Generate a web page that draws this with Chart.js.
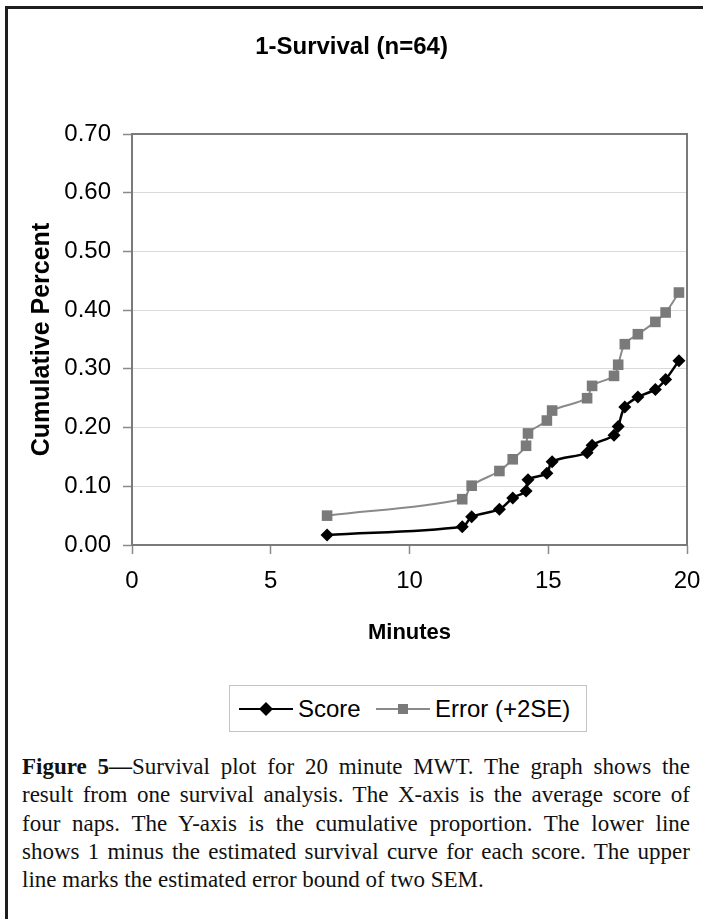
<!DOCTYPE html>
<html>
<head>
<meta charset="utf-8">
<script src="https://cdn.jsdelivr.net/npm/chart.js@4/dist/chart.umd.min.js"></script>
<style>
  html, body { margin: 0; padding: 0; background: #fff; }
  body { width: 703px; height: 919px; overflow: hidden; position: relative; }
  #frame { position: absolute; left: 5px; top: 6px; width: 720px; height: 940px;
           border-top: 3px solid #1e1e1e; border-left: 3px solid #1e1e1e; }
  #wrap { position: absolute; left: 0; top: 0; width: 703px; height: 660px; }
  #legend { position: absolute; left: 229px; top: 685px; width: 358px; height: 47px;
            border: 1px solid #c4c4c4; font-family: "Liberation Sans", Arial, sans-serif;
            font-size: 24px; color: #000; box-sizing: border-box; }
  #legend .item { position: absolute; top: 0; height: 45px; display: flex; align-items: center; }
  #legend svg { display: block; }
  #caption { position: absolute; left: 22px; top: 753px; width: 668px;
             font-family: "Liberation Serif", "Times New Roman", serif; font-size: 23px;
             line-height: 28.3px; text-align: justify; color: #111; }
</style>
</head>
<body>
<div id="frame"></div>
<div id="wrap"><canvas id="c" width="703" height="660"></canvas></div>
<div id="legend">
  <div class="item" style="left:8px">
    <svg width="56" height="20"><line x1="1" y1="10" x2="55" y2="10" stroke="#000" stroke-width="2"/><polygon points="28,3 35,10 28,17 21,10" fill="#000"/></svg>
    <span style="margin-left:4px">Score</span>
  </div>
  <div class="item" style="left:145px">
    <svg width="56" height="20"><line x1="1" y1="10" x2="55" y2="10" stroke="#8a8a8a" stroke-width="2"/><rect x="23" y="5" width="10" height="10" fill="#7a7a7a"/></svg>
    <span style="margin-left:4px">Error (+2SE)</span>
  </div>
</div>
<div id="caption"><b>Figure 5—</b>Survival plot for 20 minute MWT. The graph shows the result from one survival analysis. The X-axis is the average score of four naps. The Y-axis is the cumulative proportion. The lower line shows 1 minus the estimated survival curve for each score. The upper line marks the estimated error bound of two SEM.</div>

<script>
const chartTitle = "1-Survival (n=64)";
const xAxisTitle = "Minutes";
const yAxisTitle = "Cumulative Percent";
const seriesNames = ["Score", "Error (+2SE)"];
const minutes = [7.03, 11.9, 12.24, 13.24, 13.72, 14.2, 14.27, 14.95, 15.14, 16.4, 16.58, 17.37, 17.52, 17.76, 18.23, 18.86, 19.23, 19.71];
const scoreValues = [0.017, 0.031, 0.048, 0.061, 0.080, 0.092, 0.111, 0.122, 0.142, 0.157, 0.170, 0.187, 0.202, 0.235, 0.252, 0.265, 0.282, 0.314];
const errorValues = [0.050, 0.078, 0.101, 0.126, 0.146, 0.169, 0.190, 0.212, 0.229, 0.250, 0.271, 0.288, 0.307, 0.342, 0.359, 0.380, 0.396, 0.430];
const xTicks = [0, 5, 10, 15, 20];
const yTicks = [0, 0.1, 0.2, 0.3, 0.4, 0.5, 0.6, 0.7];

const FONT = '"Liberation Sans", Arial, sans-serif';

const toPoints = (xs, ys) => xs.map((x, i) => ({x: x, y: ys[i]}));

const frameBox = {
  id: 'frameBox',
  afterDatasetsDraw(chart) {
    const {ctx, chartArea: a} = chart;
    ctx.save();
    ctx.strokeStyle = '#7a7a7a';
    ctx.lineWidth = 2;
    ctx.beginPath();
    ctx.moveTo(a.left, a.top);
    ctx.lineTo(a.right, a.top);
    ctx.lineTo(a.right, a.bottom);
    ctx.stroke();
    ctx.restore();
  }
};

new Chart(document.getElementById('c'), {
  type: 'line',
  data: {
    datasets: [
      {
        label: seriesNames[0],
        data: toPoints(minutes, scoreValues),
        borderColor: '#000',
        backgroundColor: '#000',
        borderWidth: 2.5,
        pointStyle: 'rectRot',
        pointRadius: 6.5,
        pointBorderWidth: 0,
        pointBackgroundColor: '#000',
        tension: 0.35,
        order: 1
      },
      {
        label: seriesNames[1],
        data: toPoints(minutes, errorValues),
        borderColor: '#8a8a8a',
        backgroundColor: '#7a7a7a',
        borderWidth: 2,
        pointStyle: 'rect',
        pointRadius: 7.5,
        pointBorderWidth: 0,
        pointBackgroundColor: '#7a7a7a',
        tension: 0.35,
        order: 2
      }
    ]
  },
  options: {
    responsive: false,
    animation: false,
    layout: { padding: { left: 16, right: 16, top: 0, bottom: 0 } },
    plugins: {
      legend: { display: false },
      tooltip: { enabled: false },
      title: {
        display: true,
        text: chartTitle,
        color: '#000',
        font: { family: FONT, size: 24, weight: 'bold' },
        padding: { top: 33, bottom: 72.2 }
      }
    },
    scales: {
      x: {
        type: 'linear',
        min: 0, max: 20,
        afterBuildTicks: (s) => { s.ticks = xTicks.map(v => ({value: v})); },
        afterFit: (s) => { s.height = 115; s.paddingLeft = 0; s.paddingRight = 0; },
        ticks: { color: '#000', font: { family: FONT, size: 24 }, padding: 13, maxRotation: 0 },
        grid: { drawOnChartArea: false, drawTicks: true, tickLength: 9, tickColor: '#8a8a8a', tickWidth: 1.5 },
        border: { color: '#7a7a7a', width: 2 },
        title: { display: true, text: xAxisTitle, color: '#000', font: { family: FONT, size: 22, weight: 'bold' }, padding: { top: 0, bottom: 14 } }
      },
      y: {
        type: 'linear',
        min: 0, max: 0.7,
        afterBuildTicks: (s) => { s.ticks = yTicks.map(v => ({value: v})); },
        afterFit: (s) => { s.width = 116; },
        ticks: { color: '#000', font: { family: FONT, size: 24 }, padding: 12, callback: (v) => Number(v).toFixed(2) },
        grid: { color: '#dadada', lineWidth: 1, drawTicks: true, tickLength: 9, tickColor: '#8a8a8a', tickWidth: 1.5 },
        border: { color: '#7a7a7a', width: 2 },
        title: { display: true, text: yAxisTitle, color: '#000', font: { family: FONT, size: 25, weight: 'bold' }, padding: { top: 11, bottom: 0 } }
      }
    }
  },
  plugins: [frameBox]
});
</script>
</body>
</html>
